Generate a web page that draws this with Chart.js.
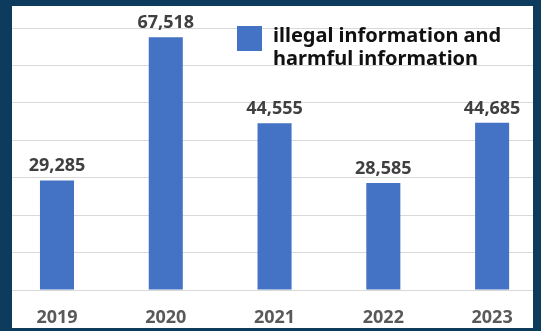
<!DOCTYPE html>
<html>
<head>
<meta charset="utf-8">
<script src="https://cdn.jsdelivr.net/npm/chart.js@4/dist/chart.umd.min.js"></script>
<style>
  html, body { margin: 0; padding: 0; background: #0d3b5d; width: 541px; height: 331px; overflow: hidden; }
  #panel { position: absolute; left: 12px; top: 6px; width: 521px; height: 322px; background: #ffffff; overflow: hidden; }
  #c { position: absolute; left: -12px; top: -6px; }
</style>
</head>
<body>
<div id="panel"><canvas id="c" width="560" height="340"></canvas></div>
<script>
const categories = ['2019', '2020', '2021', '2022', '2023'];
const seriesLabel = 'illegal information and harmful information';
const legendLines = ['illegal information and', 'harmful information'];
const values = [29285, 67518, 44555, 28585, 44685];
const yMin = 0;
const yMax = 70000;
const yStep = 10000;

const FONT = '"Noto Sans", "DejaVu Sans", sans-serif';

const dataLabels = {
  id: 'dataLabels',
  afterDatasetsDraw(chart) {
    const ctx = chart.ctx;
    const meta = chart.getDatasetMeta(0);
    ctx.save();
    ctx.font = 'bold 18px ' + FONT;
    ctx.fillStyle = '#404040';
    ctx.textAlign = 'center';
    ctx.textBaseline = 'alphabetic';
    meta.data.forEach((bar, i) => {
      const v = chart.data.datasets[0].data[i];
      ctx.fillText(v.toLocaleString('en-US'), bar.x, bar.y - 9);
    });
    ctx.restore();
  }
};

const customLegend = {
  id: 'customLegend',
  afterDraw(chart) {
    const ctx = chart.ctx;
    const ds = chart.data.datasets[0];
    ctx.save();
    ctx.fillStyle = ds.backgroundColor;
    ctx.fillRect(237, 26, 25, 25);
    ctx.font = 'bold 20px ' + FONT;
    ctx.fillStyle = '#111111';
    ctx.textAlign = 'left';
    ctx.textBaseline = 'alphabetic';
    legendLines.forEach((line, i) => {
      ctx.fillText(line, 273, 42 + i * 23);
    });
    ctx.restore();
  }
};

new Chart(document.getElementById('c'), {
  type: 'bar',
  data: {
    labels: categories,
    datasets: [{
      label: seriesLabel,
      data: values,
      backgroundColor: '#4472C4',
      borderWidth: 0,
      barPercentage: 0.313,
      categoryPercentage: 1.0
    }]
  },
  options: {
    responsive: false,
    devicePixelRatio: 1,
    animation: false,
    layout: { padding: { left: 2.6, right: 13.5, top: 28, bottom: 10 } },
    plugins: {
      legend: { display: false },
      tooltip: { enabled: false }
    },
    scales: {
      x: {
        offset: true,
        grid: { display: false, drawTicks: false },
        border: { display: false },
        ticks: {
          color: '#595959',
          font: { family: FONT, size: 18, weight: 'bold' },
          padding: 17
        },
        afterFit(scale) { scale.height = 40; }
      },
      y: {
        min: yMin,
        max: yMax,
        ticks: { display: false, stepSize: yStep },
        grid: { color: '#d9d9d9', lineWidth: 1, drawTicks: false },
        border: { display: false },
        afterFit(scale) { scale.width = 0; }
      }
    }
  },
  plugins: [dataLabels, customLegend]
});
</script>
</body>
</html>
